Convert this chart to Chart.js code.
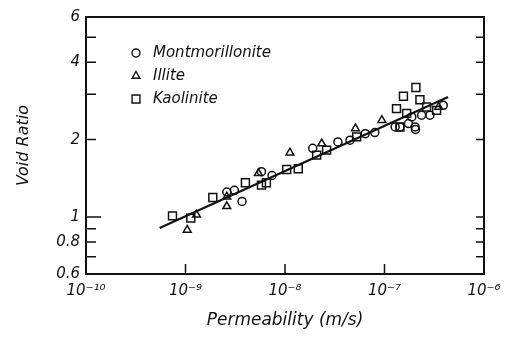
<!DOCTYPE html>
<html>
<head>
<meta charset="utf-8">
<script src="https://cdn.jsdelivr.net/npm/chart.js@4/dist/chart.umd.min.js"></script>
<style>
  html, body { margin: 0; padding: 0; background: #fff; }
  #wrap { width: 511px; height: 337px; }
</style>
</head>
<body>
<div id="wrap"><canvas id="c"></canvas></div>
<script>
// dados (log-log)
const montPerm = [2.6e-9, 3.1e-9, 3.7e-9, 5.8e-9, 7.4e-9, 1.9e-8, 3.4e-8, 4.5e-8, 6.4e-8, 8.0e-8,
                  1.28e-7, 1.43e-7, 1.74e-7, 1.88e-7, 2.03e-7, 2.05e-7, 2.36e-7, 2.86e-7, 3.9e-7];
const montVoid = [1.25, 1.27, 1.15, 1.50, 1.45, 1.85, 1.96, 1.99, 2.11, 2.13,
                  2.24, 2.24, 2.31, 2.45, 2.24, 2.19, 2.49, 2.49, 2.72];
const illPerm = [1.04e-9, 1.29e-9, 2.6e-9, 2.6e-9, 5.4e-9, 1.12e-8, 2.34e-8, 5.1e-8, 9.4e-8, 3.5e-7];
const illVoid = [0.89, 1.02, 1.10, 1.20, 1.48, 1.78, 1.93, 2.21, 2.38, 2.68];
const kaoPerm = [7.4e-10, 1.13e-9, 1.88e-9, 4.0e-9, 5.8e-9, 6.5e-9, 1.04e-8, 1.36e-8, 2.08e-8, 2.62e-8,
                 5.25e-8, 1.32e-7, 1.55e-7, 2.07e-7, 2.27e-7, 1.67e-7, 1.43e-7, 3.34e-7, 2.65e-7];
const kaoVoid = [1.01, 0.99, 1.19, 1.36, 1.33, 1.36, 1.53, 1.54, 1.74, 1.82,
                 2.05, 2.64, 2.95, 3.19, 2.86, 2.53, 2.24, 2.60, 2.68];
const trendPerm = [5.5e-10, 4.35e-7];
const trendVoid = [0.906, 2.93];

const xTicks = [1e-10, 1e-9, 1e-8, 1e-7, 1e-6];
const xTickLabels = ['10\u207B\u00B9\u2070', '10\u207B\u2079', '10\u207B\u2078', '10\u207B\u2077', '10\u207B\u2076'];
const yTicks = [0.6, 0.7, 0.8, 0.9, 1, 2, 3, 4, 5, 6];
const yTickLabels = ['0.6', '', '0.8', '', '1', '2', '', '4', '', '6'];

const pts = (xs, ys) => xs.map((x, i) => ({ x: x, y: ys[i] }));

Chart.defaults.font.family = 'DejaVu Sans';
Chart.defaults.font.style = 'italic';
Chart.defaults.color = '#111';

// moldura e ticks para dentro
const framePlugin = {
    id: 'frame',
    afterDatasetsDraw(chart) {
        const { ctx, chartArea: a, scales } = chart;
        ctx.save();
        ctx.strokeStyle = '#111';
        ctx.lineWidth = 2;
        ctx.strokeRect(a.left, a.top, a.right - a.left, a.bottom - a.top);
        ctx.lineWidth = 1.5;
        ctx.beginPath();
        yTicks.forEach(v => {
            const p = scales.y.getPixelForValue(v);
            if (v === 6 || v === 0.6) return;
            const len = v === 1 ? 15 : 10;
            ctx.moveTo(a.left, p); ctx.lineTo(a.left + len, p);
            ctx.moveTo(a.right, p); ctx.lineTo(a.right - 8, p);
        });
        xTicks.forEach(v => {
            const p = scales.x.getPixelForValue(v);
            if (v === 1e-10 || v === 1e-6) return;
            ctx.moveTo(p, a.bottom); ctx.lineTo(p, a.bottom - 10);
        });
        ctx.stroke();
        ctx.restore();
    }
};

// legenda dentro do gráfico
const legendPlugin = {
    id: 'insideLegend',
    afterDraw(chart) {
        const ctx = chart.ctx;
        ctx.save();
        ctx.font = 'italic 15px "DejaVu Sans"';
        ctx.textBaseline = 'middle';
        chart.data.datasets.slice(0, 3).forEach((ds, i) => {
            const y = 53 + i * 23;
            ctx.fillStyle = 'rgba(0,0,0,0)';
            ctx.strokeStyle = '#111';
            ctx.lineWidth = 1.4;
            Chart.helpers.drawPoint(ctx, {
                pointStyle: ds.pointStyle, radius: ds.pointRadius, rotation: 0, borderWidth: 1.4
            }, 136, y);
            ctx.fillStyle = '#111';
            ctx.fillText(ds.label, 153, y);
        });
        ctx.restore();
    }
};

const marker = { borderColor: '#111', backgroundColor: 'rgba(0,0,0,0)', borderWidth: 1.5 };

new Chart(document.getElementById('c'), {
    type: 'scatter',
    data: {
        datasets: [
            Object.assign({ label: 'Montmorillonite', data: pts(montPerm, montVoid), pointStyle: 'circle', pointRadius: 4 }, marker),
            Object.assign({ label: 'Illite', data: pts(illPerm, illVoid), pointStyle: 'triangle', pointRadius: 4.5 }, marker),
            Object.assign({ label: 'Kaolinite', data: pts(kaoPerm, kaoVoid), pointStyle: 'rect', pointRadius: 5.6 }, marker),
            {
                label: 'trend', type: 'line', data: pts(trendPerm, trendVoid),
                borderColor: '#111', borderWidth: 2.2, pointRadius: 0, showLine: true, fill: false
            }
        ]
    },
    options: {
        responsive: true,
        maintainAspectRatio: false,
        animation: false,
        layout: { padding: { top: 17, right: 27, left: 0, bottom: 0 } },
        plugins: { legend: { display: false }, tooltip: { enabled: false } },
        scales: {
            x: {
                type: 'logarithmic', min: 1e-10, max: 1e-6,
                afterBuildTicks: s => { s.ticks = xTicks.map(v => ({ value: v })); },
                afterFit: s => { s.height = 63; },
                grid: { display: false, drawTicks: false },
                border: { display: false },
                ticks: {
                    autoSkip: false, maxRotation: 0, padding: 8,
                    font: { size: 15 },
                    callback: (v, i) => xTickLabels[i]
                },
                title: { display: true, text: 'Permeability (m/s)', font: { size: 17 }, padding: { top: 4, bottom: 6 } }
            },
            y: {
                type: 'logarithmic', min: 0.6, max: 6,
                afterBuildTicks: s => { s.ticks = yTicks.map(v => ({ value: v })); },
                afterFit: s => { s.width = 86; },
                grid: { display: false, drawTicks: false },
                border: { display: false },
                ticks: {
                    autoSkip: false, padding: 6,
                    font: { size: 15 },
                    callback: (v, i) => yTickLabels[i]
                },
                title: { display: true, text: 'Void Ratio', font: { size: 16 }, padding: { top: 14, bottom: 0 } }
            }
        }
    },
    plugins: [framePlugin, legendPlugin]
});
</script>
</body>
</html>
